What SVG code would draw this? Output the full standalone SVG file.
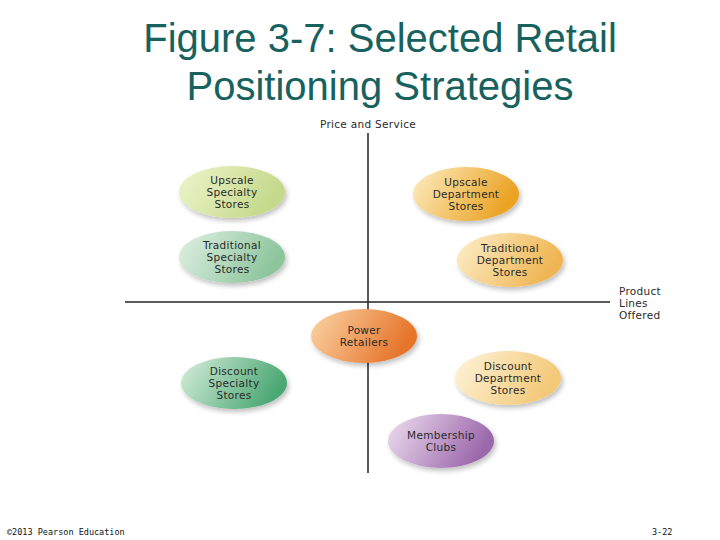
<svg xmlns="http://www.w3.org/2000/svg" width="720" height="540" viewBox="0 0 720 540">
<style>
.title{font-family:"Liberation Sans",Arial,sans-serif;font-size:40px;fill:#17615f;text-anchor:middle}
.lbl{font-family:"DejaVu Sans","Liberation Sans",sans-serif;font-size:10.5px;letter-spacing:0.3px;fill:#2a2a2a;text-anchor:middle}
.ax{font-family:"DejaVu Sans","Liberation Sans",sans-serif;font-size:10.5px;letter-spacing:0.3px;fill:#2a2a2a}
.foot{font-family:"DejaVu Sans Mono","Liberation Mono",monospace;font-size:8.5px;fill:#111}
.axis{stroke:#222;stroke-width:1.5;fill:none}
</style>
<defs>
<filter id="sh" x="-20%" y="-20%" width="150%" height="160%">
<feGaussianBlur in="SourceAlpha" stdDeviation="2.5"/>
<feOffset dx="2" dy="3" result="b"/>
<feComponentTransfer><feFuncA type="linear" slope="0.25"/></feComponentTransfer>
<feMerge><feMergeNode/><feMergeNode in="SourceGraphic"/></feMerge>
</filter>
<linearGradient id="gUS" x1="0" y1="0" x2="1" y2="0.3"><stop offset="0" stop-color="#eef4cc"/><stop offset="1" stop-color="#c4d98a"/></linearGradient>
<linearGradient id="gTS" x1="0" y1="0" x2="1" y2="0.3"><stop offset="0" stop-color="#e2f0e4"/><stop offset="1" stop-color="#8cc59c"/></linearGradient>
<linearGradient id="gDS" x1="0" y1="0" x2="1" y2="0.3"><stop offset="0" stop-color="#d8eedd"/><stop offset="1" stop-color="#4ca874"/></linearGradient>
<linearGradient id="gUD" x1="0" y1="0" x2="1" y2="0.3"><stop offset="0" stop-color="#fdeec4"/><stop offset="1" stop-color="#eba324"/></linearGradient>
<linearGradient id="gTD" x1="0" y1="0" x2="1" y2="0.3"><stop offset="0" stop-color="#fdf0cc"/><stop offset="1" stop-color="#efb552"/></linearGradient>
<linearGradient id="gPR" x1="0" y1="0" x2="1" y2="0.3"><stop offset="0" stop-color="#fbd6a8"/><stop offset="1" stop-color="#e6742a"/></linearGradient>
<linearGradient id="gDD" x1="0" y1="0" x2="1" y2="0.3"><stop offset="0" stop-color="#fef5dc"/><stop offset="1" stop-color="#f3c878"/></linearGradient>
<linearGradient id="gMC" x1="0" y1="0" x2="1" y2="0.3"><stop offset="0" stop-color="#eee0f0"/><stop offset="1" stop-color="#9c68ac"/></linearGradient>
</defs>
<text class="title" x="380" y="52">Figure 3-7: Selected Retail</text>
<text class="title" x="380" y="100">Positioning Strategies</text>
<g id="connectors">
<line class="axis" x1="368" y1="133" x2="368" y2="473"/>
<line class="axis" x1="125" y1="302" x2="610" y2="302"/>
</g>
<g id="axis-labels">
<text class="lbl" x="368" y="128">Price and Service</text>
<text class="ax" x="619" y="295">Product</text>
<text class="ax" x="619" y="307">Lines</text>
<text class="ax" x="619" y="319">Offered</text>
</g>
<g id="upscale-specialty"><ellipse cx="232" cy="192" rx="53" ry="26" fill="url(#gUS)" filter="url(#sh)"/>
<text class="lbl" x="232" y="184">Upscale</text><text class="lbl" x="232" y="196">Specialty</text><text class="lbl" x="232" y="208">Stores</text></g>
<g id="traditional-specialty"><ellipse cx="232" cy="257" rx="53" ry="26" fill="url(#gTS)" filter="url(#sh)"/>
<text class="lbl" x="232" y="249">Traditional</text><text class="lbl" x="232" y="261">Specialty</text><text class="lbl" x="232" y="273">Stores</text></g>
<g id="upscale-department"><ellipse cx="466" cy="194" rx="53" ry="27" fill="url(#gUD)" filter="url(#sh)"/>
<text class="lbl" x="466" y="186">Upscale</text><text class="lbl" x="466" y="198">Department</text><text class="lbl" x="466" y="210">Stores</text></g>
<g id="traditional-department"><ellipse cx="510" cy="260" rx="53" ry="27" fill="url(#gTD)" filter="url(#sh)"/>
<text class="lbl" x="510" y="252">Traditional</text><text class="lbl" x="510" y="264">Department</text><text class="lbl" x="510" y="276">Stores</text></g>
<g id="power-retailers"><ellipse cx="364" cy="336" rx="53" ry="27" fill="url(#gPR)" filter="url(#sh)"/>
<text class="lbl" x="364" y="334">Power</text><text class="lbl" x="364" y="346">Retailers</text></g>
<g id="discount-specialty"><ellipse cx="234" cy="383" rx="53" ry="26" fill="url(#gDS)" filter="url(#sh)"/>
<text class="lbl" x="234" y="375">Discount</text><text class="lbl" x="234" y="387">Specialty</text><text class="lbl" x="234" y="399">Stores</text></g>
<g id="discount-department"><ellipse cx="508" cy="378" rx="53" ry="27" fill="url(#gDD)" filter="url(#sh)"/>
<text class="lbl" x="508" y="370">Discount</text><text class="lbl" x="508" y="382">Department</text><text class="lbl" x="508" y="394">Stores</text></g>
<g id="membership-clubs"><ellipse cx="441" cy="441" rx="53" ry="27" fill="url(#gMC)" filter="url(#sh)"/>
<text class="lbl" x="441" y="439">Membership</text><text class="lbl" x="441" y="451">Clubs</text></g>
<text class="foot" x="7" y="535">©2013 Pearson Education</text>
<text class="foot" x="652" y="535">3-22</text>
</svg>
